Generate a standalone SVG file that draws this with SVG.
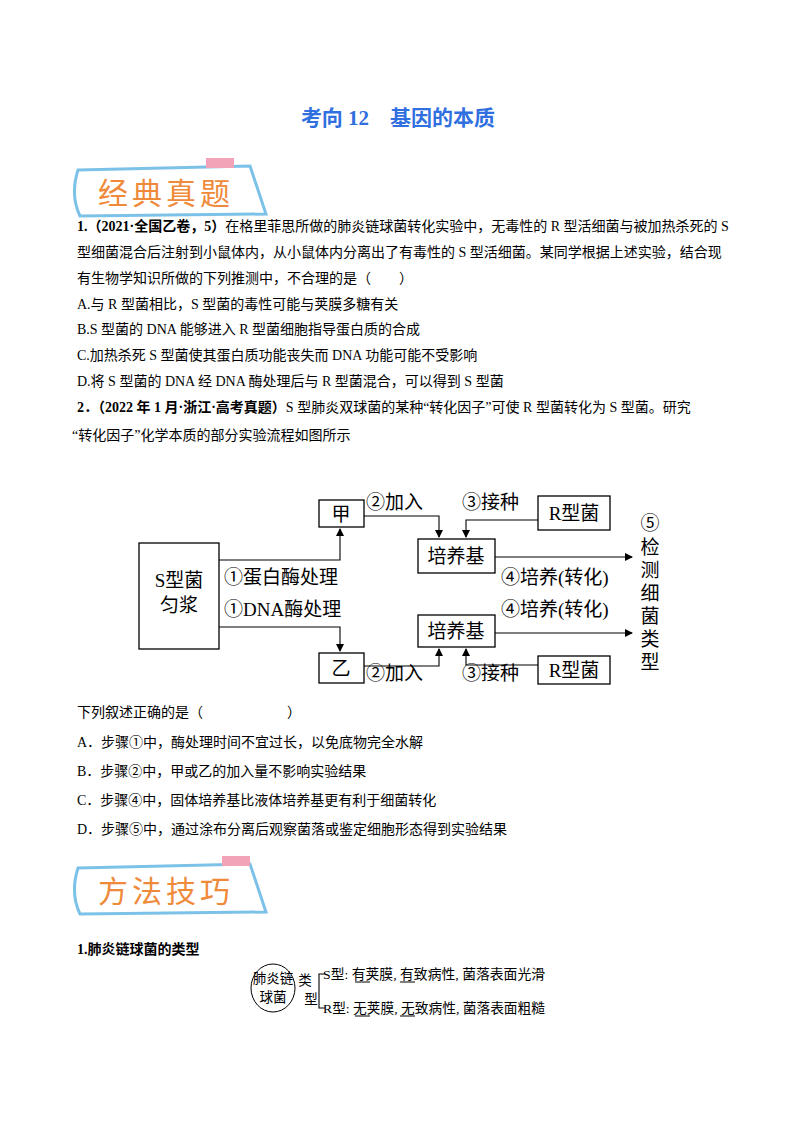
<svg xmlns="http://www.w3.org/2000/svg" width="800" height="1132" viewBox="0 0 800 1132">
<style>
text{font-family:"Liberation Serif","Noto Sans CJK SC",serif;fill:#000}
.b{font-size:14px}
.d{font-size:19px}
.s{font-size:13.5px}
.box{fill:#fff;stroke:#000;stroke-width:1.3}
.ln{fill:none;stroke:#000;stroke-width:1.1}
.ban{fill:#fff;stroke:#7cc2e8;stroke-width:3}
.bt{font-size:30px;fill:#ef8a3a;font-family:"Noto Sans CJK SC",sans-serif;letter-spacing:4px}
</style>
<defs><marker id="ar" markerWidth="8" markerHeight="8" refX="7" refY="4" orient="auto" markerUnits="userSpaceOnUse"><path d="M0,0L8,4L0,8z" fill="#000"/></marker></defs>
<rect width="800" height="1132" fill="#fff"/>
<text x="398" y="125" text-anchor="middle" style="font-size:21px;font-weight:bold;fill:#2f6fe0">考向 12　基因的本质</text>
<g id="banner1"><path class="ban" d="M78,170 L250,166 Q258,190 266,214 L80,216 Q70,195 78,170z"/><rect x="206" y="158" width="28" height="10" fill="#f3a3b8"/><text class="bt" x="98" y="204">经典真题</text></g>
<g id="q1">
<text x="77" y="231" class="b"><tspan font-weight="bold">1.（2021·全国乙卷，5）</tspan>在格里菲思所做的肺炎链球菌转化实验中，无毒性的 R 型活细菌与被加热杀死的 S</text>
<text x="77" y="257" class="b">型细菌混合后注射到小鼠体内，从小鼠体内分离出了有毒性的 S 型活细菌。某同学根据上述实验，结合现</text>
<text x="77" y="283" class="b">有生物学知识所做的下列推测中，不合理的是（　　）</text>
<text x="77" y="309" class="b">A.与 R 型菌相比，S 型菌的毒性可能与荚膜多糖有关</text>
<text x="77" y="334" class="b">B.S 型菌的 DNA 能够进入 R 型菌细胞指导蛋白质的合成</text>
<text x="77" y="360" class="b">C.加热杀死 S 型菌使其蛋白质功能丧失而 DNA 功能可能不受影响</text>
<text x="77" y="386" class="b">D.将 S 型菌的 DNA 经 DNA 酶处理后与 R 型菌混合，可以得到 S 型菌</text>
<text x="77" y="412" class="b"><tspan font-weight="bold">2．（2022 年 1 月·浙江·高考真题）</tspan>S 型肺炎双球菌的某种“转化因子”可使 R 型菌转化为 S 型菌。研究</text>
<text x="72" y="440" class="b">“转化因子”化学本质的部分实验流程如图所示</text>
</g>
<g id="connectors">
<path class="ln" d="M219,560H340V529" marker-end="url(#ar)"/>
<path class="ln" d="M219,627H340V651" marker-end="url(#ar)"/>
<path class="ln" d="M364,516H439V537" marker-end="url(#ar)"/>
<path class="ln" d="M538,520H466V537" marker-end="url(#ar)"/>
<path class="ln" d="M364,666H439V649" marker-end="url(#ar)"/>
<path class="ln" d="M538,665H466V649" marker-end="url(#ar)"/>
<path class="ln" d="M495,557H632" marker-end="url(#ar)"/>
<path class="ln" d="M495,633H632" marker-end="url(#ar)"/>
</g>
<g id="S"><rect class="box" x="139" y="543" width="80" height="106"/><text class="d" x="179" y="587" text-anchor="middle">S型菌</text><text class="d" x="179" y="612" text-anchor="middle">匀浆</text></g>
<g id="jia"><rect class="box" x="319" y="500" width="45" height="27"/><text class="d" x="341" y="521" text-anchor="middle">甲</text></g>
<g id="yi"><rect class="box" x="319" y="653" width="45" height="30"/><text class="d" x="341" y="675" text-anchor="middle">乙</text></g>
<g id="pyj1"><rect class="box" x="418" y="539" width="77" height="34"/><text class="d" x="456" y="563" text-anchor="middle">培养基</text></g>
<g id="pyj2"><rect class="box" x="418" y="615" width="77" height="32"/><text class="d" x="456" y="638" text-anchor="middle">培养基</text></g>
<g id="R1"><rect class="box" x="538" y="496" width="72" height="34"/><text class="d" x="574" y="520" text-anchor="middle">R型菌</text></g>
<g id="R2"><rect class="box" x="538" y="656" width="72" height="28"/><text class="d" x="574" y="677" text-anchor="middle">R型菌</text></g>
<g id="labels">
<text class="d" x="366" y="509">②加入</text>
<text class="d" x="366" y="680">②加入</text>
<text class="d" x="462" y="509">③接种</text>
<text class="d" x="462" y="680">③接种</text>
<text class="d" x="224" y="584">①蛋白酶处理</text>
<text class="d" x="224" y="616">①DNA酶处理</text>
<text class="d" x="501" y="584">④培养(转化)</text>
<text class="d" x="501" y="616">④培养(转化)</text>
<text class="d" x="650" y="530" text-anchor="middle">⑤</text>
<text class="d" x="650" y="554" text-anchor="middle">检</text>
<text class="d" x="650" y="577" text-anchor="middle">测</text>
<text class="d" x="650" y="600" text-anchor="middle">细</text>
<text class="d" x="650" y="623" text-anchor="middle">菌</text>
<text class="d" x="650" y="646" text-anchor="middle">类</text>
<text class="d" x="650" y="669" text-anchor="middle">型</text>
</g>
<g id="q2opts">
<text x="77" y="717" class="b">下列叙述正确的是（　　　　　　）</text>
<text x="77" y="747" class="b">A．步骤①中，酶处理时间不宜过长，以免底物完全水解</text>
<text x="77" y="776" class="b">B．步骤②中，甲或乙的加入量不影响实验结果</text>
<text x="77" y="805" class="b">C．步骤④中，固体培养基比液体培养基更有利于细菌转化</text>
<text x="77" y="834" class="b">D．步骤⑤中，通过涂布分离后观察菌落或鉴定细胞形态得到实验结果</text>
</g>
<g id="banner2"><path class="ban" d="M78,868 L250,864 Q258,888 266,912 L80,914 Q70,893 78,868z"/><rect x="222" y="856" width="28" height="10" fill="#f3a3b8"/><text class="bt" x="98" y="902">方法技巧</text></g>
<text x="77" y="954" class="b" font-weight="bold">1.肺炎链球菌的类型</text>
<g id="pneumo">
<ellipse cx="273" cy="988" rx="22" ry="24" fill="none" stroke="#000"/>
<text x="273" y="983" class="s" text-anchor="middle">肺炎链</text>
<text x="273" y="1002" class="s" text-anchor="middle">球菌</text>
<text x="305" y="985" class="s" text-anchor="middle">类</text>
<text x="311" y="1004" class="s" text-anchor="middle">型</text>
<path class="ln" d="M325,974H319V1008H325"/>
<text x="323" y="979" class="s" textLength="222" lengthAdjust="spacingAndGlyphs">S型: 有荚膜, 有致病性, 菌落表面光滑</text>
<text x="323" y="1013" class="s" textLength="222" lengthAdjust="spacingAndGlyphs">R型: 无荚膜, 无致病性, 菌落表面粗糙</text>
<path class="ln" d="M355,982H370M400,982H415M355,1016H370M400,1016H415"/>
</g>
</svg>
